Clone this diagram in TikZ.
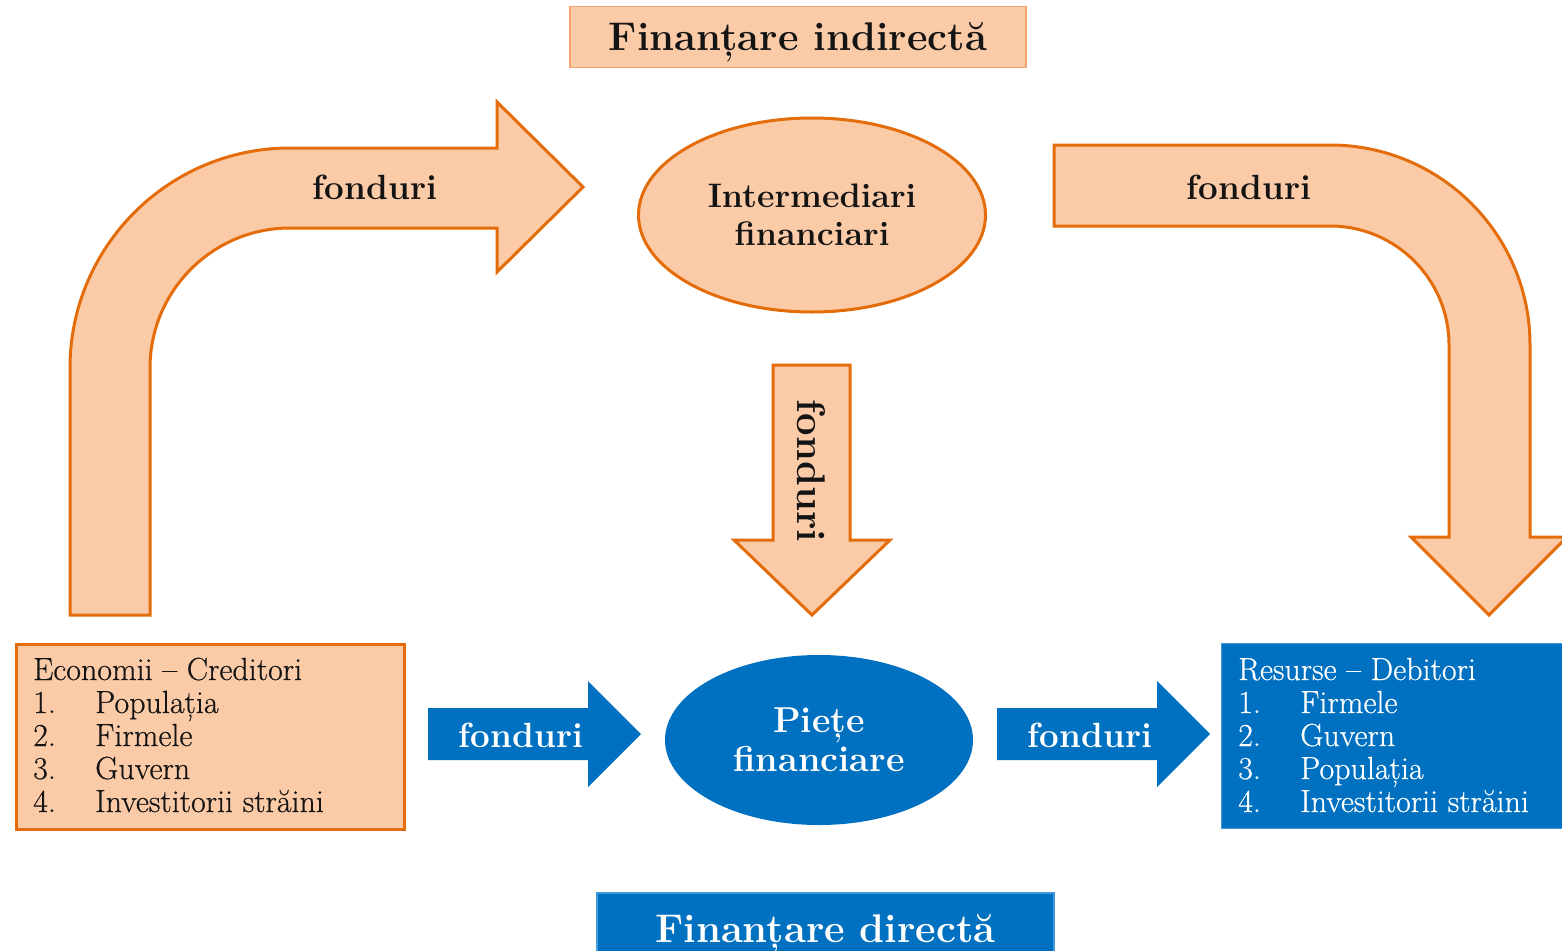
\documentclass[tikz,border=0pt]{standalone}
\usepackage{fontspec}
\setmainfont{Latin Modern Roman}
\newfontfamily\listfont[FakeBold=0.5]{Latin Modern Roman}
\usetikzlibrary{shapes.geometric}
\definecolor{peach}{HTML}{FBCBA8}
\definecolor{orng}{HTML}{E46C0A}
\definecolor{lorng}{HTML}{F4A46E}
\definecolor{blu}{HTML}{0070C0}
\definecolor{lblu}{HTML}{3F9BDB}
\definecolor{ink}{HTML}{141414}
\begin{document}
\begin{tikzpicture}[x=1pt,y=-1pt,
  orangearrow/.style={fill=peach, draw=orng, line width=3pt, line join=miter},
  bluearrow/.style={fill=blu, draw=none},
  lbl/.style={font=\fontsize{35}{40}\selectfont\bfseries, inner sep=0pt},
  listtext/.style={font=\listfont\fontsize{32}{33}\selectfont, anchor=base west, inner sep=0pt},
  titlebox/.style={font=\fontsize{40}{44}\selectfont\bfseries, inner sep=0pt, text depth=0pt}]
\useasboundingbox (0,0) rectangle (1562,950);

% ---- title boxes
\node[titlebox, fill=peach, draw=lorng, line width=1.5pt, text=ink,
      minimum width=456pt, minimum height=61pt] (ind) at (798,37) {Finanțare indirectă};
\node[titlebox, fill=blu, draw=lblu, line width=1.5pt, text=white,
      minimum width=457pt, minimum height=70pt] (dir) at (825.5,928) {Finanțare directă};

% ---- left curved arrow
\draw[orangearrow] (70,615) -- (70,368)
   .. controls (70,246.5) and (168.5,148) .. (290,148)
   -- (497,148) -- (497,102) -- (583,187) -- (497,272) -- (497,228) -- (290,228)
   .. controls (212.7,228) and (150,290.7) .. (150,368)
   -- (150,615) -- cycle;
\node[lbl, text=ink] (fl) at (375,187) {fonduri};

% ---- right curved arrow
\draw[orangearrow] (1054,145) -- (1330,145)
   .. controls (1440.5,145) and (1530,234.5) .. (1530,345)
   -- (1530,537) -- (1567,537) -- (1489,615) -- (1411,537) -- (1449,537) -- (1449,345)
   .. controls (1449,279.3) and (1395.7,226) .. (1330,226)
   -- (1054,226) -- cycle;
\node[lbl, text=ink] (fr) at (1249,187) {fonduri};

% ---- vertical arrow
\draw[orangearrow] (773,365) -- (850,365) -- (850,540) -- (890,540) -- (812,615)
   -- (734,540) -- (773,540) -- cycle;
\node[lbl, text=ink, rotate=-90, font=\fontsize{40}{40}\selectfont\bfseries] (fv) at (811,471) {fonduri};

% ---- ellipses
\node[ellipse, fill=peach, draw=orng, line width=3pt, text=ink, align=center,
      minimum width=347pt, minimum height=194pt,
      font=\fontsize{34}{38}\selectfont\bfseries] (im) at (812,215) {Intermediari\\financiari};
\node[ellipse, fill=blu, text=white, align=center,
      minimum width=308pt, minimum height=170pt,
      font=\fontsize{36}{39}\selectfont\bfseries] (pf) at (819,740) {Piețe\\financiare};

% ---- blue arrows
\fill[bluearrow] (428,708) -- (588,708) -- (588,681) -- (641,734) -- (588,787) -- (588,760) -- (428,760) -- cycle;
\node[lbl, text=white] (fb1) at (521,735) {fonduri};
\fill[bluearrow] (997,708) -- (1157,708) -- (1157,681) -- (1210,734) -- (1157,787) -- (1157,760) -- (997,760) -- cycle;
\node[lbl, text=white] (fb2) at (1090,735) {fonduri};

% ---- creditors box
\node[draw=orng, fill=peach, line width=2.5pt, minimum width=388pt, minimum height=185pt,
      anchor=north west, inner sep=0pt] (cred) at (15,643) {};
\node[listtext, text=ink] (c0) at (33,680) {Economii – Creditori};
\node[listtext, text=ink] (c1n) at (33,713) {1.};
\node[listtext, text=ink] (c1) at (95,713) {Populația};
\node[listtext, text=ink] (c2n) at (33,746) {2.};
\node[listtext, text=ink] (c2) at (95,746) {Firmele};
\node[listtext, text=ink] (c3n) at (33,779) {3.};
\node[listtext, text=ink] (c3) at (95,779) {Guvern};
\node[listtext, text=ink] (c4n) at (33,812) {4.};
\node[listtext, text=ink] (c4) at (95,812) {Investitorii străini};

% ---- debtors box
\node[fill=blu, draw=lblu, line width=1pt, minimum width=350pt, minimum height=185pt,
      anchor=north west, inner sep=0pt] (deb) at (1221,643) {};
\node[listtext, text=white] (d0) at (1238,680) {Resurse – Debitori};
\node[listtext, text=white] (d1n) at (1238,713) {1.};
\node[listtext, text=white] (d1) at (1300,713) {Firmele};
\node[listtext, text=white] (d2n) at (1238,746) {2.};
\node[listtext, text=white] (d2) at (1300,746) {Guvern};
\node[listtext, text=white] (d3n) at (1238,779) {3.};
\node[listtext, text=white] (d3) at (1300,779) {Populația};
\node[listtext, text=white] (d4n) at (1238,812) {4.};
\node[listtext, text=white] (d4) at (1300,812) {Investitorii străini};
\end{tikzpicture}
\end{document}
